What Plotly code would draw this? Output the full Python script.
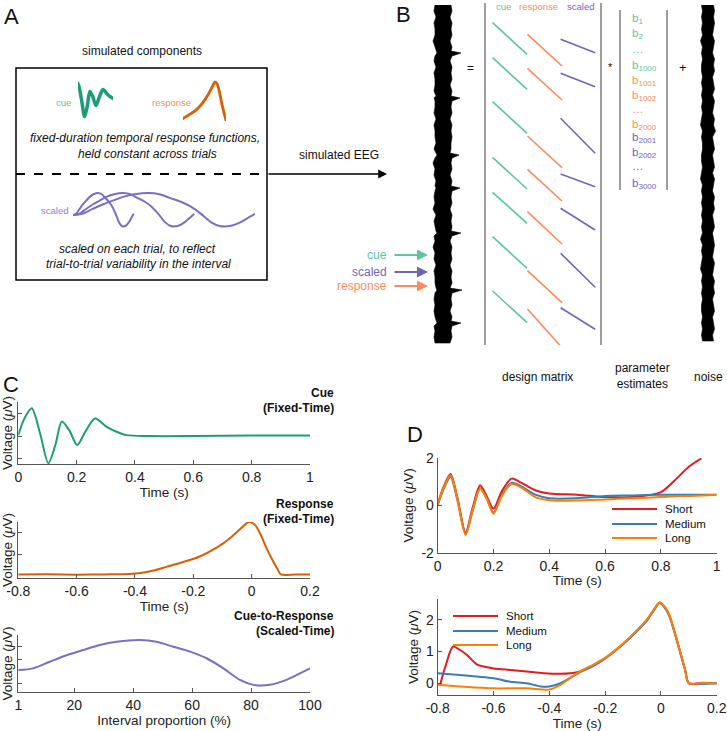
import plotly.graph_objects as go

# ======================= DATA =======================
# Panel C - cue component (fixed time); time (s), voltage (uV)
cue_t = [0, 0.02, 0.046, 0.075, 0.103, 0.127, 0.149, 0.175, 0.202, 0.23,
         0.263, 0.303, 0.337, 0.371, 0.45, 0.6, 0.8, 1.0]
cue_v = [0.04, 0.75, 1.23, 0.1, -1.21, -0.4, 0.64, 0.25, -0.4, 0.2,
         0.78, 0.41, 0.19, 0.04, 0.0, 0.0, 0.02, 0.02]

# Panel C - response component (fixed time)
resp_t = [-0.8, -0.7, -0.6, -0.5, -0.42, -0.38, -0.34, -0.29, -0.24, -0.18,
          -0.12, -0.07, -0.03, -0.011, 0.01, 0.03, 0.05, 0.07, 0.09, 0.1,
          0.15, 0.2]
resp_v = [0.03, 0.04, 0.02, 0.03, 0.05, 0.1, 0.2, 0.4, 0.6, 0.87,
          1.3, 1.8, 2.3, 2.52, 2.4, 1.95, 1.3, 0.75, 0.25, 0.03,
          0.03, 0.03]

# Panel C - cue-to-response component (scaled time), interval proportion (%)
scaled_p = [1, 6, 11.7, 17.4, 23, 28.7, 34.4, 42.3, 47.9, 53.6,
            59.3, 64.9, 70.6, 76.2, 80.8, 86.4, 92, 96.6, 100]
scaled_v = [0.01, 0.024, 0.078, 0.13, 0.173, 0.214, 0.24, 0.254, 0.24, 0.2,
            0.16, 0.106, 0.024, -0.07, -0.11, -0.11, -0.07, -0.016, 0.024]

# Panel A - three trial durations used for the scaled-component sketch
icon_durations = [1, 2, 3]

# Panel D - cue-locked averages
series_names = ["Short", "Medium", "Long"]
d_top_t = [0, 0.02, 0.046, 0.07, 0.1, 0.125, 0.152, 0.175, 0.2, 0.23,
           0.265, 0.3, 0.35, 0.4, 0.5, 0.6, 0.7, 0.8, 0.85, 0.9,
           0.95, 1.0]
short_top_t = [0, 0.02, 0.046, 0.07, 0.1, 0.125, 0.152, 0.175, 0.2, 0.23,
               0.265, 0.3, 0.35, 0.4, 0.5, 0.6, 0.7, 0.8, 0.85, 0.9,
               0.945]
short_top_v = [0.05, 0.75, 1.32, 0.35, -1.15, -0.1, 0.85, 0.4, -0.14, 0.6,
               1.13, 0.95, 0.64, 0.5, 0.45, 0.35, 0.35, 0.56, 1.06, 1.63,
               1.98]
medium_top_v = [0.0, 0.65, 1.2, 0.25, -1.2, -0.25, 0.72, 0.3, -0.3, 0.45,
                0.95, 0.8, 0.45, 0.3, 0.3, 0.4, 0.42, 0.45, 0.45, 0.45,
                0.45, 0.45]
long_top_v = [0.05, 0.7, 1.27, 0.3, -1.25, -0.2, 0.7, 0.3, -0.35, 0.4,
              0.9, 0.75, 0.35, 0.22, 0.2, 0.25, 0.3, 0.35, 0.38, 0.4,
              0.42, 0.45]

# Panel D - response-locked averages
short_bot_t = [-0.79, -0.77, -0.745, -0.72, -0.696, -0.66, -0.6, -0.54, -0.48, -0.42,
               -0.36, -0.3, -0.24, -0.2, -0.14, -0.1, -0.05, -0.025, -0.005, 0.01,
               0.03, 0.057, 0.087, 0.1, 0.15, 0.2]
short_bot_v = [0.0, 0.6, 1.16, 1.05, 0.9, 0.6, 0.47, 0.42, 0.37, 0.32,
               0.3, 0.35, 0.58, 0.79, 1.21, 1.53, 2.0, 2.32, 2.55, 2.45,
               2.15, 1.37, 0.42, 0.0, 0.02, 0.0]
medium_bot_t = [-0.8, -0.72, -0.66, -0.6, -0.54, -0.48, -0.43, -0.4, -0.36, -0.3,
                -0.24, -0.2, -0.14, -0.1, -0.05, -0.025, -0.005, 0.01, 0.03, 0.057,
                0.087, 0.1, 0.15, 0.2]
medium_bot_v = [0.32, 0.26, 0.21, 0.16, 0.05, 0.0, -0.1, -0.1, 0.0, 0.3,
                0.56, 0.78, 1.2, 1.52, 1.98, 2.3, 2.53, 2.43, 2.12, 1.35,
                0.4, 0.0, -0.02, 0.0]
long_bot_t = [-0.8, -0.72, -0.6, -0.48, -0.4, -0.36, -0.3, -0.24, -0.2, -0.14,
              -0.1, -0.05, -0.025, -0.005, 0.01, 0.03, 0.057, 0.087, 0.1, 0.15,
              0.2]
long_bot_v = [-0.05, -0.1, -0.16, -0.16, -0.2, -0.05, 0.32, 0.6, 0.8, 1.22,
              1.55, 2.02, 2.33, 2.55, 2.46, 2.15, 1.38, 0.42, 0.0, 0.01,
              0.0]

# Panel B - simulated EEG (sample row, envelope left / right)
eeg_t = [2, 8, 14, 20, 26, 32, 38, 44, 48, 50,
         53, 58, 64, 70, 76, 82, 88, 93, 95, 98,
         104, 110, 116, 122, 128, 134, 140, 146, 150, 152,
         155, 160, 166, 172, 178, 183, 185, 188, 194, 200,
         206, 212, 218, 224, 228, 230, 233, 238, 244, 250,
         256, 262, 268, 274, 280, 285, 287, 290, 296, 302,
         308, 314, 318, 320, 323, 328, 334, 340]
eeg_left = [-10, -11, -9, -11, -10, -10, -12, -10, -9, -8,
            -10, -11, -9, -11, -10, -10, -11, -9, -11, -10,
            -10, -11, -9, -11, -10, -10, -9, -11, -9, -8,
            -10, -12, -10, -11, -9, -10, -9, -10, -11, -10,
            -12, -9, -11, -10, -9, -8, -11, -10, -12, -10,
            -11, -9, -11, -10, -10, -9, -8, -10, -11, -10,
            -11, -10, -9, -8, -11, -10, -11, -10]
eeg_right = [6, 7, 5, 7, 6, 7, 5, 7, 6, 16,
             7, 5, 7, 6, 7, 5, 7, 6, 15, 7,
             6, 7, 5, 7, 6, 7, 6, 6, 5, 14,
             7, 6, 7, 5, 7, 6, 15, 7, 6, 7,
             5, 7, 6, 7, 6, 16, 7, 5, 7, 6,
             7, 5, 7, 6, 7, 5, 17, 7, 6, 7,
             5, 7, 6, 16, 7, 6, 7, 5]

# Panel B - residual noise
noise_t = [2, 8, 14, 20, 26, 32, 38, 44, 50, 56,
           62, 68, 74, 80, 86, 92, 98, 104, 110, 116,
           122, 128, 134, 140, 146, 152, 158, 164, 170, 176,
           182, 188, 194, 200, 206, 212, 218, 224, 230, 236,
           242, 248, 254, 260, 266, 272, 278, 284, 290, 296,
           302, 308, 314, 320, 326, 332, 338]
noise_left = [-6, -5, -6, -5, -6, -5, -7, -5, -6, -5,
              -6, -6, -5, -6, -5, -6, -5, -6, -5, -6,
              -7, -5, -6, -5, -5, -6, -6, -5, -6, -7,
              -5, -6, -5, -6, -5, -6, -5, -6, -5, -7,
              -5, -6, -5, -6, -7, -5, -6, -5, -6, -5,
              -6, -6, -5, -6, -5, -6, -5]
noise_right = [6, 7, 6, 7, 6, 5, 7, 6, 5, 7,
               6, 7, 5, 6, 7, 5, 7, 6, 5, 7,
               6, 8, 5, 6, 7, 5, 6, 7, 5, 7,
               6, 5, 7, 6, 7, 5, 6, 7, 5, 6,
               7, 6, 5, 7, 6, 5, 7, 6, 7, 5,
               6, 7, 5, 6, 7, 5, 6]

# Panel B - design matrix: regressor onsets (rows) and lengths per column
dm_cue_onsets = [19.7, 54.7, 98.7, 154.3, 189.3, 233.7, 288]
dm_cue_lens = [31.6, 31.6, 31.6, 31.7, 31, 31.6, 31.7]
dm_resp_onsets = [31.3, 65.3, 133, 166.3, 208.7, 267.7, 306]
dm_resp_lens = [31.7, 31.7, 31.7, 31.7, 32.3, 32, 38.7]
dm_scaled_onsets = [36.3, 70.3, 115.3, 171, 205.3, 250.3, 304.7]
dm_scaled_lens = [13.4, 13.4, 35, 12.7, 21.7, 34, 21.6]

# Panel B - parameter labels
param_labels = ["b<sub>1</sub>", "b<sub>2</sub>", "…", "b<sub>1000</sub>",
                "b<sub>1001</sub>", "b<sub>1002</sub>", "…", "b<sub>2000</sub>",
                "b<sub>2001</sub>", "b<sub>2002</sub>", "…", "b<sub>3000</sub>"]

# ======================= STYLE / LAYOUT =======================
W, H = 727, 731
FONT = "Liberation Sans, Arial, Helvetica, sans-serif"
CUE_C, RESP_C, SCAL_C = "#1b9e77", "#d95f02", "#7b6fc2"
CUE_L, RESP_L, SCAL_L = "#5cc4a0", "#fb8a5c", "#6f66b8"
SERIES_C = ["#e41a1c", "#377eb8", "#ff7f00"]
AX_C = "#555555"


def X(p):
    return p / W


def Y(p):
    return 1 - p / H


def dx(a, b):
    return [a / W, b / W]


def dy(top, bot):
    return [1 - bot / H, 1 - top / H]


fig = go.Figure()


def add_line(x, y, k, color, width, name=None, spline=True, fill=None):
    fig.add_trace(go.Scatter(
        x=x, y=y, xaxis="x" + k, yaxis="y" + k, mode="lines",
        line=dict(color=color, width=width,
                  shape="spline" if spline else "linear", smoothing=0.8),
        fill=fill, fillcolor=color if fill else None,
        name=name, showlegend=False, hoverinfo="skip"))


# ---- Panel C ----
add_line(cue_t, cue_v, "", CUE_C, 2)
add_line(resp_t, resp_v, "2", RESP_C, 2)
add_line(scaled_p, scaled_v, "3", SCAL_C, 2)

# ---- Panel D ----
for name, col, t, v in zip(series_names, SERIES_C,
                           [short_top_t, d_top_t, d_top_t],
                           [short_top_v, medium_top_v, long_top_v]):
    add_line(t, v, "4", col, 2, name=name)
for name, col, t, v in zip(series_names, SERIES_C,
                           [short_bot_t, medium_bot_t, long_bot_t],
                           [short_bot_v, medium_bot_v, long_bot_v]):
    add_line(t, v, "5", col, 2, name=name)

# ---- Panel A icons (same component shapes) ----
add_line(cue_t, cue_v, "6", CUE_C, 3.5)
add_line(resp_t, resp_v, "7", RESP_C, 2.8)
for d in icon_durations:
    add_line([(p - 1) / 99 * d for p in scaled_p], scaled_v, "8", SCAL_C, 2)

# ---- Panel B: EEG, design matrix, noise ----
add_line(eeg_left + eeg_right[::-1], eeg_t + eeg_t[::-1], "9", "#000000", 0.6,
         spline=False, fill="toself")
add_line(noise_left + noise_right[::-1], noise_t + noise_t[::-1], "11", "#000000", 0.6,
         spline=False, fill="toself")

col_start = {"cue": 0.19, "response": 1.2, "scaled": 2.16}
for key, ons, lens, col in [("cue", dm_cue_onsets, dm_cue_lens, CUE_L),
                            ("response", dm_resp_onsets, dm_resp_lens, RESP_L),
                            ("scaled", dm_scaled_onsets, dm_scaled_lens, SCAL_L)]:
    xs, ys = [], []
    for o, ln in zip(ons, lens):
        xs += [col_start[key], col_start[key] + 1, None]
        ys += [o, o + ln, None]
    add_line(xs, ys, "10", col, 1.6, spline=False)

# ---- axes ----
base = dict(showgrid=False, zeroline=False, showline=True, linecolor=AX_C, linewidth=1,
            ticks="inside", ticklen=4, tickcolor=AX_C, automargin=False,
            tickfont=dict(size=14, color="#222222", family=FONT))
hidden = dict(visible=False, showgrid=False, zeroline=False, automargin=False)
layout_axes = {}


def set_axes(n, xd, yd, xr, yr, vis=True, xkw=None, ykw=None):
    k = "" if n == 1 else str(n)
    xa = dict(base if vis else hidden)
    ya = dict(base if vis else hidden)
    xa.update(domain=xd, range=xr, anchor="y" + k)
    ya.update(domain=yd, range=yr, anchor="x" + k)
    if xkw:
        xa.update(xkw)
    if ykw:
        ya.update(ykw)
    layout_axes["xaxis" + k] = xa
    layout_axes["yaxis" + k] = ya


TITLE_F = dict(size=13.5, color="#222222", family=FONT)
volt = "Voltage (<i>μ</i>V)"

set_axes(1, dx(18.3, 310), dy(402, 464), [0, 1], [-1.24, 1.51],
         xkw=dict(tickvals=[0, 0.2, 0.4, 0.6, 0.8, 1], title=dict(text="Time (s)", font=TITLE_F, standoff=0)),
         ykw=dict(tickvals=[-1, 0, 1], showticklabels=False, title=dict(text=volt, font=TITLE_F, standoff=2)))
set_axes(2, dx(18.3, 310), dy(522, 578), [-0.8, 0.2], [-0.14, 2.52],
         xkw=dict(tickvals=[-0.8, -0.6, -0.4, -0.2, 0, 0.2],
                  ticktext=["-0.8", "-0.6", "-0.4", "-0.2", "0", "0.2"],
                  title=dict(text="Time (s)", font=TITLE_F, standoff=0)),
         ykw=dict(tickvals=[1, 2], showticklabels=False, title=dict(text=volt, font=TITLE_F, standoff=2)))
set_axes(3, dx(18.3, 310), dy(635, 692), [1, 100], [-0.168, 0.295],
         xkw=dict(tickvals=[1, 20, 40, 60, 80, 100],
                  title=dict(text="Interval proportion (%)", font=TITLE_F, standoff=0)),
         ykw=dict(tickvals=[-0.1, 0.1, 0.2], showticklabels=False, title=dict(text=volt, font=TITLE_F, standoff=2)))
set_axes(4, dx(437.7, 716.7), dy(458, 552.7), [0, 1], [-2, 2],
         xkw=dict(tickvals=[0, 0.2, 0.4, 0.6, 0.8, 1], title=dict(text="Time (s)", font=TITLE_F, standoff=0)),
         ykw=dict(tickvals=[-2, 0, 2], ticktext=["-2", "0", "2"], title=dict(text=volt, font=TITLE_F, standoff=4)))
set_axes(5, dx(437.7, 716.7), dy(599, 695), [-0.8, 0.2], [-0.37, 2.66],
         xkw=dict(tickvals=[-0.8, -0.6, -0.4, -0.2, 0, 0.2],
                  ticktext=["-0.8", "-0.6", "-0.4", "-0.2", "0", "0.2"],
                  title=dict(text="Time (s)", font=TITLE_F, standoff=0)),
         ykw=dict(tickvals=[0, 1, 2], title=dict(text=volt, font=TITLE_F, standoff=4)))
# Panel A icons
set_axes(6, dx(78, 113), dy(80, 120), [0.046, 0.35], [-1.45, 1.47], vis=False)
set_axes(7, dx(183, 226), dy(80, 121), [-0.3, 0.09], [0.21, 2.64], vis=False)
set_axes(8, dx(73, 255), dy(188, 232), [0, 3], [-0.176, 0.309], vis=False)
# Panel B
set_axes(9, dx(425, 465), dy(3, 345), [-20, 20], [342, 0], vis=False)
set_axes(10, dx(486, 600), dy(3, 345), [0, 3.3], [342, 0], vis=False,
         ykw=dict(visible=True, showline=True, mirror=True, linecolor="#9e9e9e", linewidth=2,
                  showticklabels=False, ticks=""))
set_axes(11, dx(690, 725), dy(3, 345), [-17.5, 17.5], [342, 0], vis=False)

# ---- annotations ----
ann = []


def txt(s, x, y, size=12, color="#111111", xa="center", ya="middle", **kw):
    ann.append(dict(text=s, x=X(x), y=Y(y), xref="paper", yref="paper", showarrow=False,
                    xanchor=xa, yanchor=ya, font=dict(size=size, color=color, family=FONT), **kw))


def arrow(x_head, y, length, color, width):
    ann.append(dict(text="", x=X(x_head), y=Y(y), xref="paper", yref="paper", showarrow=True,
                    ax=-length, ay=0, axref="pixel", ayref="pixel", arrowhead=2, arrowsize=1.1,
                    arrowwidth=width, arrowcolor=color, standoff=0,
                    font=dict(size=12, family=FONT)))


# panel letters
txt("A", 11, 16, size=22)
txt("B", 403, 15, size=22)
txt("C", 11, 384, size=22)
txt("D", 415, 434, size=22)

# panel A
txt("simulated components", 142, 51, size=12)
txt("cue", 63, 102, size=9.5, color=CUE_L)
txt("response", 171, 102, size=9.5, color=RESP_L)
txt("<i>fixed-duration temporal response functions,</i>", 145, 138, size=12)
txt("<i>held constant across trials</i>", 147, 154, size=12)
txt("scaled", 54, 210, size=9.5, color="#8a80d2")
txt("<i>scaled on each trial, to reflect</i>", 137, 249, size=12)
txt("<i>trial-to-trial variability in the interval</i>", 138, 264, size=12)
txt("simulated EEG", 297, 155, size=12, xa="left")
arrow(387, 174, 120, "#000000", 1.6)

# panel B
txt("cue", 503, 6, size=9.5, color=CUE_L)
txt("response", 538, 6, size=9.5, color=RESP_L)
txt("scaled", 580, 6, size=9.5, color=SCAL_L)
txt("=", 470, 68, size=12)
txt("*", 610, 67, size=11)
txt("+", 683, 68, size=13)
param_y = [19, 34, 49, 66, 81, 96, 109, 125, 138, 153, 166, 184]
param_c = [CUE_L] * 4 + [RESP_L] * 4 + [SCAL_L] * 4
for lab, yy, cc in zip(param_labels, param_y, param_c):
    txt(lab, 630, yy, size=11.5, color=cc, xa="left")
for lab, yy, cc in [("cue", 255, CUE_L), ("scaled", 272, SCAL_L), ("response", 286, RESP_L)]:
    txt(lab, 389, yy, size=12, color=cc, xa="right")
    arrow(428, yy, 35, cc, 2)
txt("design matrix", 537, 377, size=12)
txt("parameter<br>estimates", 642, 376, size=12)
txt("noise", 708, 377, size=12)

# panel C titles
for a, b, y1 in [("Cue", "(Fixed-Time)", 393), ("Response", "(Fixed-Time)", 504),
                 ("Cue-to-Response", "(Scaled-Time)", 616)]:
    txt("<b>%s</b>" % a, 336, y1, size=12, xa="right")
    txt("<b>%s</b>" % b, 336, y1 + 14.5, size=12, xa="right")

# ---- shapes ----
shapes = [
    dict(type="rect", xref="paper", yref="paper", x0=X(16), x1=X(267), y0=Y(68), y1=Y(280),
         line=dict(color="#000000", width=1.5)),
    dict(type="line", xref="paper", yref="paper", x0=X(16), x1=X(267), y0=Y(174), y1=Y(174),
         line=dict(color="#000000", width=2, dash="dash")),
    dict(type="line", xref="paper", yref="paper", x0=X(620), x1=X(620), y0=Y(10), y1=Y(190),
         line=dict(color="#9e9e9e", width=2)),
    dict(type="line", xref="paper", yref="paper", x0=X(667), x1=X(667), y0=Y(10), y1=Y(190),
         line=dict(color="#9e9e9e", width=2)),
]

# ---- legends for panel D (line sample + series name) ----
for (lx0, lx1, tx, rows) in [(612, 657, 663, [509, 524, 538]),
                             (453, 498, 504, [616, 631, 645])]:
    for name, col, ry in zip(series_names, SERIES_C, rows):
        shapes.append(dict(type="line", xref="paper", yref="paper", x0=X(lx0), x1=X(lx1),
                           y0=Y(ry), y1=Y(ry), line=dict(color=col, width=2)))
        txt(name, tx, ry, size=11.5, xa="left")

fig.update_layout(
    width=W, height=H, autosize=False,
    margin=dict(l=0, r=0, t=0, b=0, autoexpand=False),
    paper_bgcolor="white", plot_bgcolor="white",
    font=dict(family=FONT, color="#222222", size=12),
    showlegend=False,
    annotations=ann, shapes=shapes,
    **layout_axes,
)

fig.write_html("out.html", config={"displayModeBar": False},
               post_script="document.body.style.margin='0px';document.body.style.overflow='hidden';")
